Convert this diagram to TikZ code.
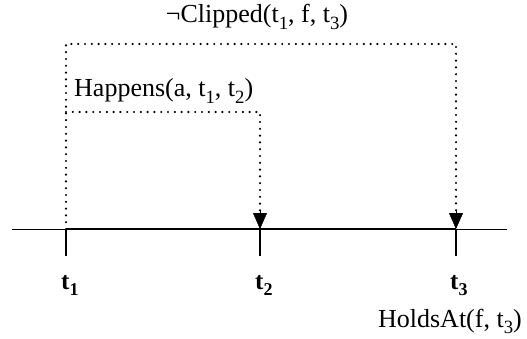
\documentclass[tikz,border=0pt]{standalone}
\usepackage{fontspec}
\usepackage{graphicx}
\setmainfont{Liberation Serif}
\usetikzlibrary{arrows.meta}
\newcommand{\sbs}[1]{\raisebox{-0.55ex}{\scalebox{0.72}{#1}}}
\begin{document}
\begin{tikzpicture}[x=1pt,y=-1pt,
  dotline/.style={line width=2.4pt,dash pattern=on 0pt off 6.8pt,line cap=round},
  arr/.style={-{Triangle[length=16pt,width=14pt]}},
  tickmark/.style={line width=2.4pt},
  tlabel/.style={font=\fontsize{25}{28}\selectfont\bfseries},
  txt/.style={font=\fontsize{26}{30}\selectfont}]
\useasboundingbox (0,0) rectangle (527,339);
% axis
\coordinate (L) at (12,229);
\coordinate (R) at (507,229);
\coordinate (p1) at (66,229);
\coordinate (p2) at (260,229);
\coordinate (p3) at (456,229);
\coordinate (top) at (66,44);
\coordinate (mid) at (66,112);
\draw[line width=0.9pt] (L) -- (R);
\draw[line width=2pt] (p1) -- (p3);
\foreach \p in {p1,p2,p3} \draw[tickmark] (\p) -- ++(0,27);
\node[tlabel,inner sep=0pt,anchor=base west] (t1) at (61,289) {t\sbs{1}};
\node[tlabel,inner sep=0pt,anchor=base west] (t2) at (255,289) {t\sbs{2}};
\node[tlabel,inner sep=0pt,anchor=base west] (t3) at (450,289) {t\sbs{3}};
\node[txt,inner sep=0pt,anchor=base east] (hold) at (522,327) {HoldsAt(f, t\sbs{3})};
\node[txt,inner sep=0pt,anchor=base] (clip) at (257,23) {¬Clipped(t\sbs{1}, f, t\sbs{3})};
\node[txt,anchor=base west,inner sep=0pt] (hap) at (74,97) {Happens(a, t\sbs{1}, t\sbs{2})};
% dotted connectors
\draw[dotline] (p1) -- (top) -| ([yshift=17pt]p3);
\draw[dotline] (mid) -| ([yshift=17pt]p2);
\draw[arr] ([yshift=18pt]p3) -- (p3);
\draw[arr] ([yshift=18pt]p2) -- (p2);
\end{tikzpicture}
\end{document}
